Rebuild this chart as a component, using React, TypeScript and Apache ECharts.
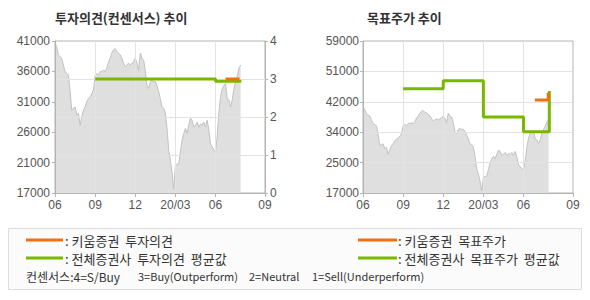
import React, { useEffect, useRef } from "react";
import * as echarts from "echarts";

// x values are months since 2019-06
const xTickValues = [0, 3, 6, 9, 12, 15.7];
const xTickLabels = ["06", "09", "12", "20/03", "06", "09"];
const xGridValues = [3, 6, 9, 12];

const opinionPriceTickLabels = ["17000", "21000", "26000", "31000", "36000", "41000"];
const opinionPriceMin = 17000;
const opinionPriceMax = 41000;
const opinionScaleLabels = ["0", "1", "2", "3", "4"];

const targetTickLabels = ["17000", "25000", "34000", "42000", "51000", "59000"];
const targetMin = 17000;
const targetMax = 59000;

// stock price, sampled every 1/8 month from 2019-06
const PRICE_STEP = 0.125;
const priceValues = [
  40700, 40100, 38800, 38500, 38300, 37200, 36200, 35900, 35600, 33300,
  30100, 30400, 30600, 29300, 29600, 27700, 29000, 30100, 30600, 31400,
  31900, 32200, 32700, 33300, 35600, 35900, 35600, 36200, 36200, 36400,
  36200, 36700, 37700, 38300, 39100, 39600, 39800, 39300, 39100, 38800,
  38300, 37500, 36900, 37200, 37500, 37200, 37500, 37700, 38300, 37500,
  36400, 39100, 38300, 38000, 36400, 34000, 33500, 34600, 34800, 34600,
  34600, 34000, 33000, 31900, 30600, 30400, 29600, 27200, 23800, 22200,
  20300, 17600, 21400, 21600, 21600, 23500, 25300, 26400, 27200, 26400,
  27700, 28800, 28500, 27400, 27700, 28200, 27400, 27900, 27700, 28200,
  27400, 28500, 27000, 24800, 24300, 23800, 23500, 25900, 29600, 32200,
  33500, 34000, 34300, 31900, 31700, 30600, 31700, 33500, 34600, 35400,
  36700, 37200,
];

const kiwoomOpinionX = [12.75, 13.8];
const kiwoomOpinionY = [3, 3];
const avgOpinionX = [3, 12, 13.93];
const avgOpinionY = [3, 2.94, 2.94];

const kiwoomTargetX = [12.85, 13.85];
const kiwoomTargetY = [42700, 44700];
const avgTargetX = [3, 6, 9, 12, 13.93];
const avgTargetY = [45800, 48000, 38000, 33900, 45200];

const ORANGE = "#f07010";
const GREEN = "#78b800";
const AXIS = "#b4b4b4";
const GRIDLINE = "#e3e3e3";
const AREA = "#dfdfdf";
const PRICE_LINE = "#c2c2c2";
const LABEL = "#555555";
const NUM_FONT = "Liberation Sans, Arial, sans-serif";
const KR_FONT = "'Noto Sans CJK KR', sans-serif";

const zip = (xs: number[], ys: number[]) => xs.map((x, i) => [x, ys[i]]);
const evenTicks = (min: number, max: number, n: number) =>
  Array.from({ length: n + 1 }, (_, i) => min + ((max - min) * i) / n);

export default function App() {
  const ref = useRef<HTMLDivElement>(null);
  useEffect(() => {
    if (!ref.current) return;
    const chart = echarts.init(ref.current, null, { renderer: "svg" });
    const priceData = priceValues.map((v, i) => [i * PRICE_STEP, v]);
    const leftPriceTicks = evenTicks(opinionPriceMin, opinionPriceMax, 5);
    const targetTicks = evenTicks(targetMin, targetMax, 5);

    const xAxisBase = (gridIndex: number) => ({
      type: "value" as const,
      gridIndex,
      min: 0,
      max: 15.7,
      z: 3,
      axisLine: { show: true, lineStyle: { color: AXIS, width: 1 } },
      axisTick: { show: true, length: 4, customValues: xTickValues, lineStyle: { color: AXIS } },
      axisLabel: {
        customValues: xTickValues,
        margin: 6,
        color: LABEL,
        fontFamily: NUM_FONT,
        fontSize: 12,
        showMinLabel: true,
        showMaxLabel: true,
        formatter: (v: number) => {
          const i = xTickValues.findIndex((t) => Math.abs(t - v) < 1e-6);
          return i >= 0 ? xTickLabels[i] : "";
        },
      },
      splitLine: { show: false },
    });

    const vGrid = (xAxisIndex: number, yAxisIndex: number) => ({
      type: "line",
      xAxisIndex,
      yAxisIndex,
      data: [],
      z: 3,
      silent: true,
      markLine: {
        silent: true,
        symbol: "none",
        label: { show: false },
        lineStyle: { color: GRIDLINE, width: 1, type: "solid" },
        emphasis: { disabled: true },
        data: xGridValues.map((v) => ({ xAxis: v })),
      },
    });

    const option: any = {
      animation: false,
      textStyle: { fontFamily: NUM_FONT },
      graphic: [
        { type: "text", left: 55, top: 11, style: { text: "투자의견(컨센서스) 추이", font: `bold 13px ${KR_FONT}`, fill: "#333" } },
        { type: "text", left: 367, top: 11, style: { text: "목표주가 추이", font: `bold 13px ${KR_FONT}`, fill: "#333" } },
        { type: "rect", shape: { x: 8.5, y: 228.5, width: 573, height: 61 }, style: { fill: "#fbfbfb", stroke: "#dddddd", lineWidth: 1 } },
        { type: "line", shape: { x1: 26, y1: 240, x2: 63, y2: 240 }, style: { stroke: ORANGE, lineWidth: 3 } },
        { type: "text", x: 65, y: 240, style: { text: ": 키움증권  투자의견", font: `13px ${KR_FONT}`, fill: "#333", verticalAlign: "middle" } },
        { type: "line", shape: { x1: 26, y1: 258, x2: 63, y2: 258 }, style: { stroke: GREEN, lineWidth: 3 } },
        { type: "text", x: 65, y: 258, style: { text: ": 전체증권사  투자의견  평균값", font: `13px ${KR_FONT}`, fill: "#333", verticalAlign: "middle" } },
        { type: "line", shape: { x1: 358, y1: 240, x2: 397, y2: 240 }, style: { stroke: ORANGE, lineWidth: 3 } },
        { type: "text", x: 398, y: 240, style: { text: ": 키움증권  목표주가", font: `13px ${KR_FONT}`, fill: "#333", verticalAlign: "middle" } },
        { type: "line", shape: { x1: 358, y1: 258, x2: 397, y2: 258 }, style: { stroke: GREEN, lineWidth: 3 } },
        { type: "text", x: 398, y: 258, style: { text: ": 전체증권사  목표주가  평균값", font: `13px ${KR_FONT}`, fill: "#333", verticalAlign: "middle" } },
        { type: "text", x: 26, y: 276, style: { text: "컨센서스:4=S/Buy", font: `12px ${KR_FONT}`, fill: "#333", verticalAlign: "middle" } },
        { type: "text", x: 138, y: 276, style: { text: "3=Buy(Outperform)", font: `11px ${KR_FONT}`, fill: "#333", verticalAlign: "middle" } },
        { type: "text", x: 249, y: 276, style: { text: "2=Neutral", font: `11px ${KR_FONT}`, fill: "#333", verticalAlign: "middle" } },
        { type: "text", x: 312, y: 276, style: { text: "1=Sell(Underperform)", font: `11px ${KR_FONT}`, fill: "#333", verticalAlign: "middle" } },
      ],
      grid: [
        { left: 55, top: 41, width: 210, height: 152, show: true, borderColor: AXIS, borderWidth: 1, backgroundColor: "#fff" },
        { left: 363, top: 41, width: 210, height: 152, show: true, borderColor: AXIS, borderWidth: 1, backgroundColor: "#fff" },
      ],
      xAxis: [xAxisBase(0), xAxisBase(1)],
      yAxis: [
        {
          type: "value",
          gridIndex: 0,
          position: "left",
          min: opinionPriceMin,
          max: opinionPriceMax,
          z: 3,
          axisLine: { show: true, lineStyle: { color: AXIS } },
          axisTick: { show: true, length: 3, customValues: leftPriceTicks, lineStyle: { color: AXIS } },
          axisLabel: {
            customValues: leftPriceTicks,
            margin: 5,
            color: LABEL,
            fontFamily: NUM_FONT,
            fontSize: 12,
            formatter: (v: number) => opinionPriceTickLabels[Math.round(((v - opinionPriceMin) / (opinionPriceMax - opinionPriceMin)) * 5)],
          },
          splitLine: { show: false },
        },
        {
          type: "value",
          gridIndex: 0,
          position: "right",
          min: 0,
          max: 4,
          interval: 1,
          z: 3,
          axisLine: { show: true, lineStyle: { color: AXIS } },
          axisTick: { show: true, length: 3, lineStyle: { color: AXIS } },
          axisLabel: {
            margin: 5,
            color: LABEL,
            fontFamily: NUM_FONT,
            fontSize: 12,
            formatter: (v: number) => opinionScaleLabels[Math.round(v)],
          },
          splitLine: { show: true, showMinLine: false, showMaxLine: false, lineStyle: { color: GRIDLINE } },
        },
        {
          type: "value",
          gridIndex: 1,
          position: "left",
          min: targetMin,
          max: targetMax,
          z: 3,
          axisLine: { show: true, lineStyle: { color: AXIS } },
          axisTick: { show: true, length: 3, customValues: targetTicks, lineStyle: { color: AXIS } },
          axisLabel: {
            customValues: targetTicks,
            margin: 4,
            color: LABEL,
            fontFamily: NUM_FONT,
            fontSize: 12,
            formatter: (v: number) => targetTickLabels[Math.round(((v - targetMin) / (targetMax - targetMin)) * 5)],
          },
          splitLine: { show: true, showMinLine: false, showMaxLine: false, lineStyle: { color: GRIDLINE } },
        },
      ],
      series: [
        {
          type: "line",
          xAxisIndex: 0,
          yAxisIndex: 0,
          data: priceData,
          symbol: "none",
          z: 2,
          lineStyle: { color: PRICE_LINE, width: 1 },
          areaStyle: { color: AREA, opacity: 1, origin: "start" },
        },
        vGrid(0, 0),
        {
          type: "line",
          xAxisIndex: 0,
          yAxisIndex: 1,
          data: zip(avgOpinionX, avgOpinionY),
          step: "end",
          symbol: "none",
          z: 5,
          lineStyle: { color: GREEN, width: 3 },
        },
        {
          type: "line",
          xAxisIndex: 0,
          yAxisIndex: 1,
          data: zip(kiwoomOpinionX, kiwoomOpinionY),
          step: "end",
          symbol: "none",
          z: 6,
          lineStyle: { color: ORANGE, width: 3 },
        },
        {
          type: "line",
          xAxisIndex: 1,
          yAxisIndex: 2,
          data: priceData,
          symbol: "none",
          z: 2,
          lineStyle: { color: PRICE_LINE, width: 1 },
          areaStyle: { color: AREA, opacity: 1, origin: "start" },
        },
        vGrid(1, 2),
        {
          type: "line",
          xAxisIndex: 1,
          yAxisIndex: 2,
          data: zip(avgTargetX, avgTargetY),
          step: "end",
          symbol: "none",
          z: 5,
          lineStyle: { color: GREEN, width: 3 },
        },
        {
          type: "line",
          xAxisIndex: 1,
          yAxisIndex: 2,
          data: zip(kiwoomTargetX, kiwoomTargetY),
          step: "end",
          symbol: "none",
          z: 6,
          lineStyle: { color: ORANGE, width: 3 },
        },
      ],
    };
    chart.setOption(option);
    return () => chart.dispose();
  }, []);
  return (
    <div
      ref={ref}
      style={{ position: "fixed", left: 0, top: 0, width: 590, height: 300, background: "#fff" }}
    />
  );
}
